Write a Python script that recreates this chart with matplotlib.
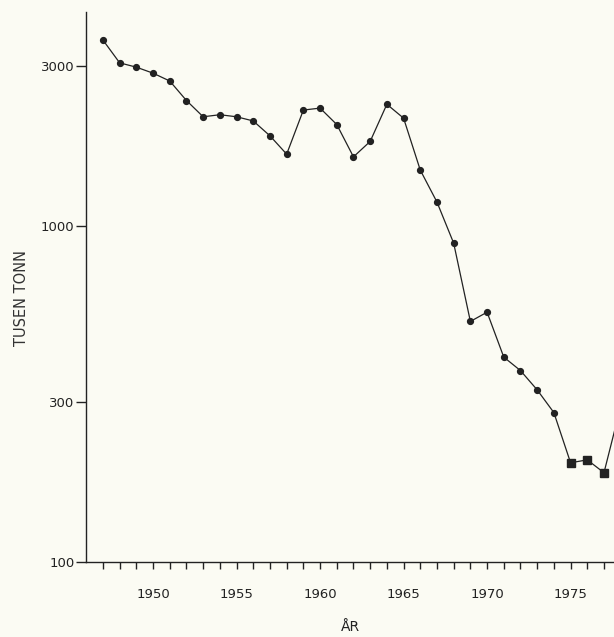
from matplotlib import pyplot as plt
from matplotlib.ticker import FixedLocator, NullLocator, NullFormatter
import numpy as np

years = np.arange(1947, 1975)
catch = [3590, 3070, 2980, 2860, 2710, 2370, 2120, 2150, 2120, 2060,
         1860, 1640, 2220, 2250, 2010, 1610, 1790, 2310, 2100, 1470,
         1180, 890, 520, 554, 407, 371, 325, 278]
years_sq = [1975, 1976, 1977]
catch_sq = [197, 201, 184]
next_year, next_catch = 1978, 290

ink = '#222222'
paper = '#fbfbf3'

fig = plt.figure(figsize=(6.14, 6.37), dpi=100, facecolor=paper)
ax = fig.add_axes([0.1405, 0.1185, 0.8595, 0.8625], facecolor=paper)

all_x = list(years) + years_sq + [next_year]
all_y = catch + catch_sq + [next_catch]
ax.plot(all_x, all_y, color=ink, lw=0.9)
ax.plot(years, catch, 'o', color=ink, ms=4.2)
ax.plot(years_sq, catch_sq, 's', color=ink, ms=5.5)

ax.set_yscale('log')
ax.set_ylim(100, 4350)
ax.set_xlim(1946, 1977.6)

ax.yaxis.set_major_locator(FixedLocator([100, 300, 1000, 3000]))
ax.yaxis.set_minor_locator(NullLocator())
ax.yaxis.set_minor_formatter(NullFormatter())
ax.set_yticklabels(['100', '300', '1000', '3000'])

ax.xaxis.set_major_locator(FixedLocator(range(1950, 1980, 5)))
ax.xaxis.set_minor_locator(FixedLocator(range(1947, 1978)))

for s in ['top', 'right']:
    ax.spines[s].set_visible(False)
for s in ['left', 'bottom']:
    ax.spines[s].set_color(ink)
    ax.spines[s].set_linewidth(1.0)

ax.tick_params(axis='x', which='both', direction='out', length=5, width=1.0,
               color=ink, pad=14, labelsize=9.5, labelcolor=ink)
ax.tick_params(axis='y', which='major', direction='out', length=7.5, width=1.0,
               color=ink, pad=1, labelsize=9.5, labelcolor=ink)

ax.set_ylabel('TUSEN TONN', fontsize=10.5, color='#333333')
ax.yaxis.set_label_coords(-0.108, 0.48)
ax.set_xlabel('ÅR', fontsize=10, color=ink, labelpad=14)

fig.savefig('out.png', dpi=100, facecolor=paper)
